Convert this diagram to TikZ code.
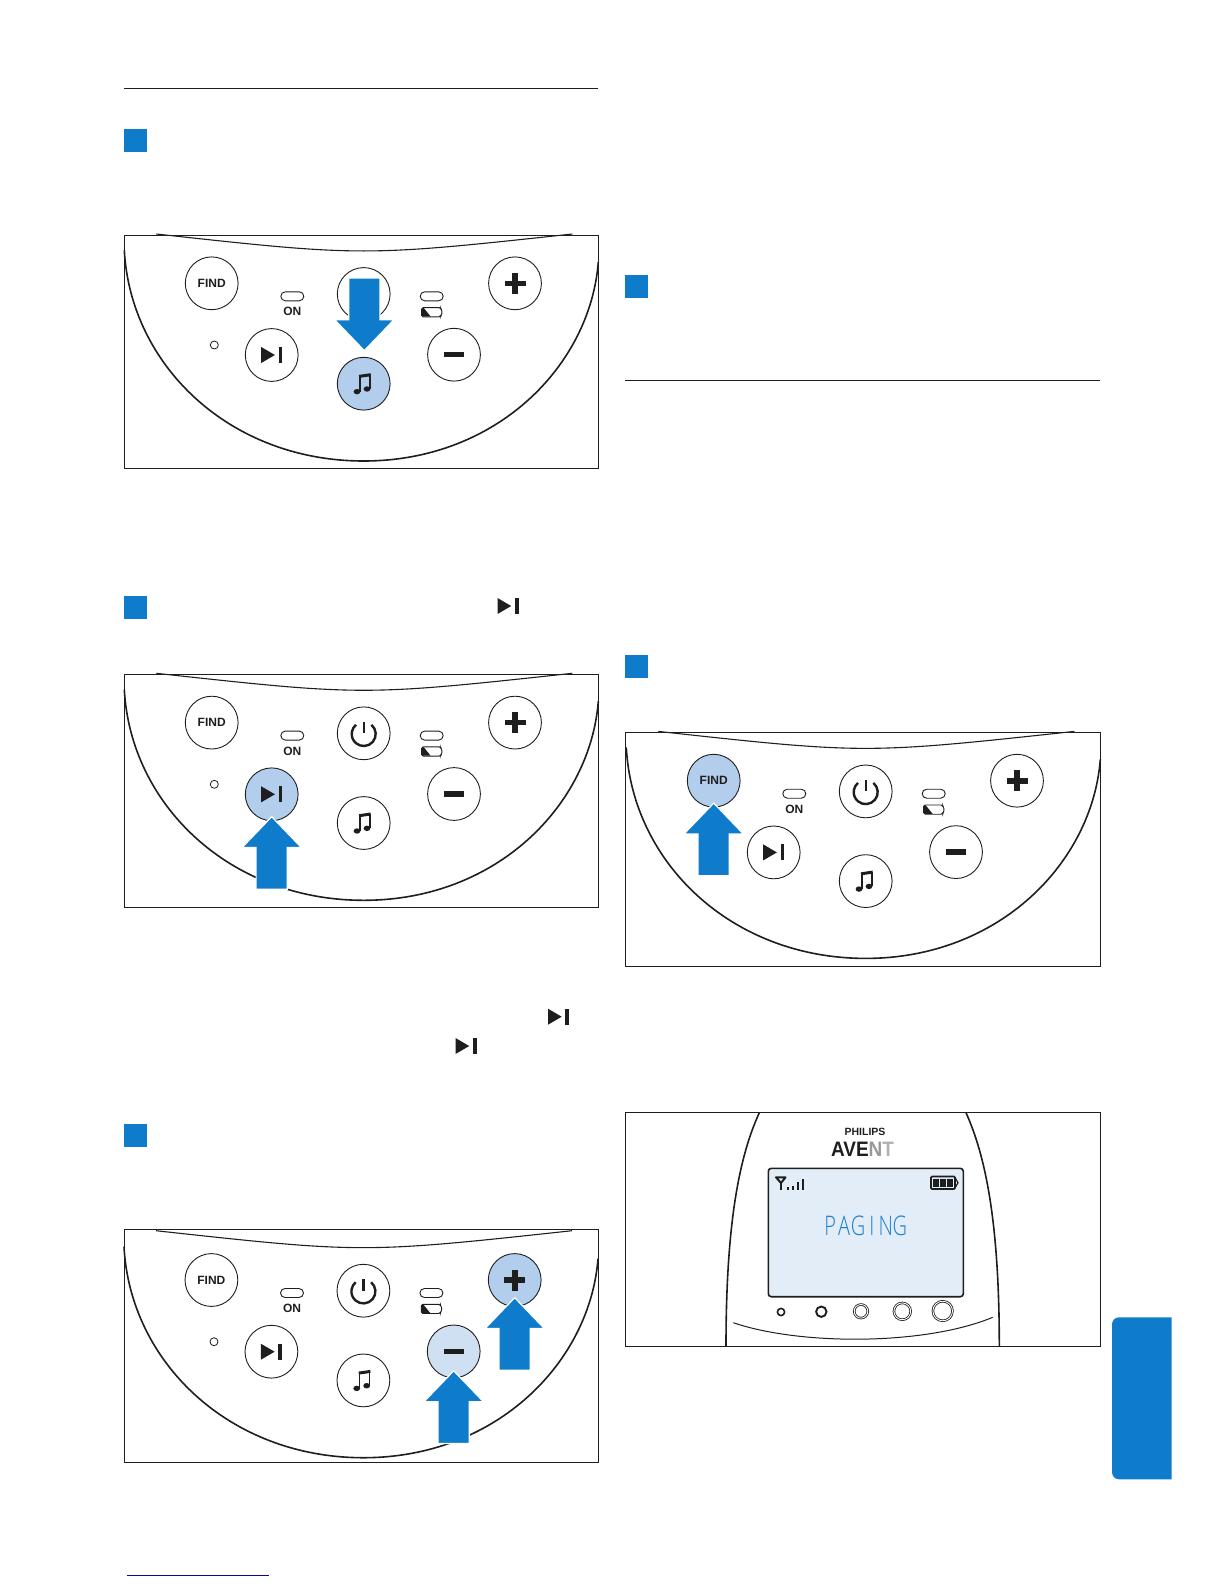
\documentclass[tikz,border=0pt]{standalone}
\usepackage{fontspec}
\usepackage{xcolor}
\setmainfont{Liberation Sans}
\newfontfamily\segfont[UprightFont=* Light]{Open Sans}
\usetikzlibrary{calc}

\definecolor{stepblue}{HTML}{0E7CCB}
\definecolor{keyblue}{HTML}{B2CEEC}
\definecolor{keypale}{HTML}{CFE0F2}
\definecolor{screenblue}{HTML}{E3EDF7}
\definecolor{segblue}{HTML}{1A80D2}
\definecolor{inkdark}{HTML}{1E1E1E}
\definecolor{footblue}{HTML}{0A0A8C}

\newcommand{\segchar}[1]{\makebox[13.9pt]{#1}}

\tikzset{
    bodyline/.style={inkdark,line width=1.6},
    thinline/.style={inkdark,line width=1},
    keybtn/.style={circle,draw=inkdark,line width=0.9,minimum size=52.8,inner sep=0,text=inkdark,font=\fontsize{12}{12}\selectfont\bfseries},
    ledpill/.style={rectangle,draw=inkdark,line width=0.9,rounded corners=4.5,minimum width=23,minimum height=9,inner sep=0},
    keyfind/.style={},
    keyplay/.style={},
    keymusic/.style={},
    keyminus/.style={},
    keyplus/.style={},
    % block arrow, origin at its tip
    blockarrow/.pic={
        \filldraw[fill=stepblue,draw=white,line width=1.2]
            (0,-0.6) -- (29.6,30.2) -- (15.6,30.2) -- (15.6,72) -- (-15.6,72) -- (-15.6,30.2) -- (-29.6,30.2) -- cycle;
    },
    playicon/.pic={
        \fill[inkdark] (-10.5,-8) -- (3.2,0) -- (-10.5,8) -- cycle;
        \fill[inkdark] (6.8,-8) rectangle (10.5,8);
    },
    powericon/.pic={
        \draw[inkdark,line width=2.4] (-50:12) ++(0,0.7) arc (-50:230:12);
        \draw[inkdark,line width=2.4] (0,-11.5) -- (0,0);
    },
    musicicon/.pic={
        \fill[inkdark] (-6.7,8) ellipse (3.4 and 2.7);
        \fill[inkdark] (3.3,5.3) ellipse (3.4 and 2.7);
        \draw[inkdark,line width=1.7] (-3.9,8) -- (-3.9,-7.5);
        \draw[inkdark,line width=1.7] (6.2,5.3) -- (6.2,-9.3);
        \draw[inkdark,line width=3] (-4.7,-7.3) -- (7,-9);
    },
    % control panel with its six keys
    keypad/.pic={
        \draw[inkdark,line width=1.1] (32,-1) .. controls (239,21.6) .. (448,-1);
        \draw[bodyline] (0,15) .. controls (6,130) and (105,226) .. (239.4,226)
            .. controls (373,226) and (466,130) .. (474,27);
        \node[keybtn,keyfind] (-find) at (87.4,48.3) {FIND};
        \node[keybtn] (-power) at (239.4,59) {};
        \node[keybtn,keyplay] (-play) at (147.4,120) {};
        \node[keybtn,keymusic] (-music) at (239.4,148.7) {};
        \node[keybtn,keyminus] (-minus) at (329.7,119.7) {};
        \node[keybtn,keyplus] (-plus) at (390.7,48.3) {};
        \pic at (-power) {powericon};
        \pic at (-play) {playicon};
        \pic at (-music) {musicicon};
        \fill[inkdark] ($(-minus)+(-10,-2.7)$) rectangle ($(-minus)+(10,2.7)$);
        \fill[inkdark] ($(-plus)+(-10.5,-2.8)$) rectangle ($(-plus)+(10.5,2.8)$);
        \fill[inkdark] ($(-plus)+(-2.8,-10.5)$) rectangle ($(-plus)+(2.8,10.5)$);
        \node[ledpill] (-onled) at (168,61.3) {};
        \node[font=\fontsize{12}{12}\selectfont\bfseries,text=inkdark,inner sep=0] (-ontext) at (168,76.7) {ON};
        \node[ledpill] (-batled) at (307.4,61.3) {};
        \draw[inkdark,line width=0.9,rounded corners=1.5] (297.3,72.6) -- (316.5,72.6) -- (316.5,74.5) -- (318.5,77.3) -- (316.5,80) -- (316.5,81.8) -- (297.3,81.8) -- cycle;
        \fill[inkdark] (297.8,73) -- (299.5,73) -- (306.3,81.4) -- (297.8,81.4) -- cycle;
        \node[circle,draw=inkdark,line width=0.8,minimum size=8,inner sep=0] (-lamp) at (90,110) {};
    }
}

\begin{document}
\begin{tikzpicture}[x=1pt,y=-1pt]
    \useasboundingbox (0,0) rectangle (1224,1584);

    % Rules at the heads of the columns
    \draw[thinline] (124,88.5) -- (598,88.5);
    \draw[thinline] (625,380.5) -- (1100,380.5);

    % Step squares
    \foreach \x/\y in {124/129,124/596,124/1124,625/275,625/655}
        \fill[stepblue] (\x,\y) rectangle ++(22.5,22.5);

    % Key symbols in the text
    \foreach \x/\y in {508/606,558.5/1016.7,466/1046}
        \pic at (\x,\y) {playicon};

    % Panel 1
    \pic[keymusic/.style={fill=keyblue}] (panela) at (124.3,235) {keypad};
    \draw[thinline] (124.3,235) rectangle (598.3,468.3);
    \pic[rotate=180] at ($(panela-music)+(0.6,-33.7)$) {blockarrow};

    % Panel 2
    \pic[keyplay/.style={fill=keyblue}] (panelb) at (124.3,674.3) {keypad};
    \draw[thinline] (124.3,674) rectangle (598.3,907);
    \pic at ($(panelb-play)+(0,23)$) {blockarrow};

    % Panel 3
    \pic[keyplus/.style={fill=keyblue},keyminus/.style={fill=keypale}] (panelc) at (124,1231.7) {keypad};
    \draw[thinline] (124.3,1229) rectangle (598.3,1462.4);
    \pic at ($(panelc-plus)+(0,18.3)$) {blockarrow};
    \pic at ($(panelc-minus)+(0,20)$) {blockarrow};

    % Panel 4
    \pic[keyfind/.style={fill=keyblue}] (paneld) at (626.3,732.4) {keypad};
    \draw[thinline] (625.7,732.3) rectangle (1100.8,966.5);
    \pic at ($(paneld-find)+(0,23)$) {blockarrow};

    % Display panel
    \draw[bodyline] (759.3,1112.7) .. controls (740,1155) and (726,1220) .. (726,1346);
    \draw[bodyline] (966,1112.7) .. controls (985,1155) and (999.3,1220) .. (999.3,1346);
    \draw[thinline] (733.3,1322.7) .. controls (800,1345.5) and (925,1345.5) .. (992.7,1317.3);
    \draw[thinline] (625.3,1112.7) rectangle (1100.8,1346);
    \node[font=\fontsize{10.5}{10.5}\selectfont\bfseries,text=inkdark,inner sep=0] (brand) at (865,1131.7) {PHILIPS};
    \node[font=\fontsize{19}{19}\selectfont\bfseries,text=inkdark,inner sep=0] (logo) at (862.5,1149.7) {\scalebox{1}[1.1]{AVE\textcolor{black!40}{N}\textcolor{black!30}{T}}};
    \filldraw[fill=screenblue,draw=inkdark,line width=1.6,rounded corners=3] (768.3,1168.3) rectangle (963.3,1296.7);
    \node[font=\fontsize{20}{20}\selectfont\segfont,text=segblue,inner sep=0] (paging) at (865,1226) {\scalebox{1}[1.35]{\segchar{P}\segchar{A}\segchar{G}\segchar{I}\segchar{N}\segchar{G}}};

    % Signal and battery marks on the screen
    \draw[inkdark,line width=2,line join=round] (776,1177.3) -- (785.5,1177.3) -- (781,1183) -- cycle;
    \draw[inkdark,line width=2.2] (781,1182) -- (781,1189.5);
    \foreach \x/\y in {788.3/1187.3,792.9/1185.7,798.3/1181.7,803.3/1179.3}
        \draw[inkdark,line width=2] (\x,\y) -- (\x,1189.5);
    \draw[inkdark,line width=1.6,rounded corners=1] (931,1176.5) rectangle (955,1189);
    \draw[inkdark,line width=1.2] (955.5,1178.5) -- (958,1182.7) -- (955.5,1187);
    \foreach \x in {933.4,940.4,947.4}
        \fill[inkdark] (\x,1178.7) rectangle ++(5.2,8.1);

    % Row of rings under the screen
    \draw[inkdark,line width=1.6] (781,1312) circle (3.6);
    \draw[inkdark,line width=1.9] (821.3,1311.7) circle (5.2);
    \foreach \x/\y/\r in {861/1311.3/6.8,902.3/1311.3/8.4,942.7/1311/9.8}
        \draw[inkdark,line width=0.8,double=white,double distance=0.9] (\x,\y) circle (\r);

    % Side tab and foot line
    \fill[stepblue] (1171.7,1317.3) -- (1119,1317.3) arc (-90:-180:7) -- (1112,1472.3) arc (180:90:7) -- (1171.7,1479.3) -- cycle;
    \draw[footblue,line width=1.2] (127,1575.3) -- (269,1575.3);
\end{tikzpicture}
\end{document}
